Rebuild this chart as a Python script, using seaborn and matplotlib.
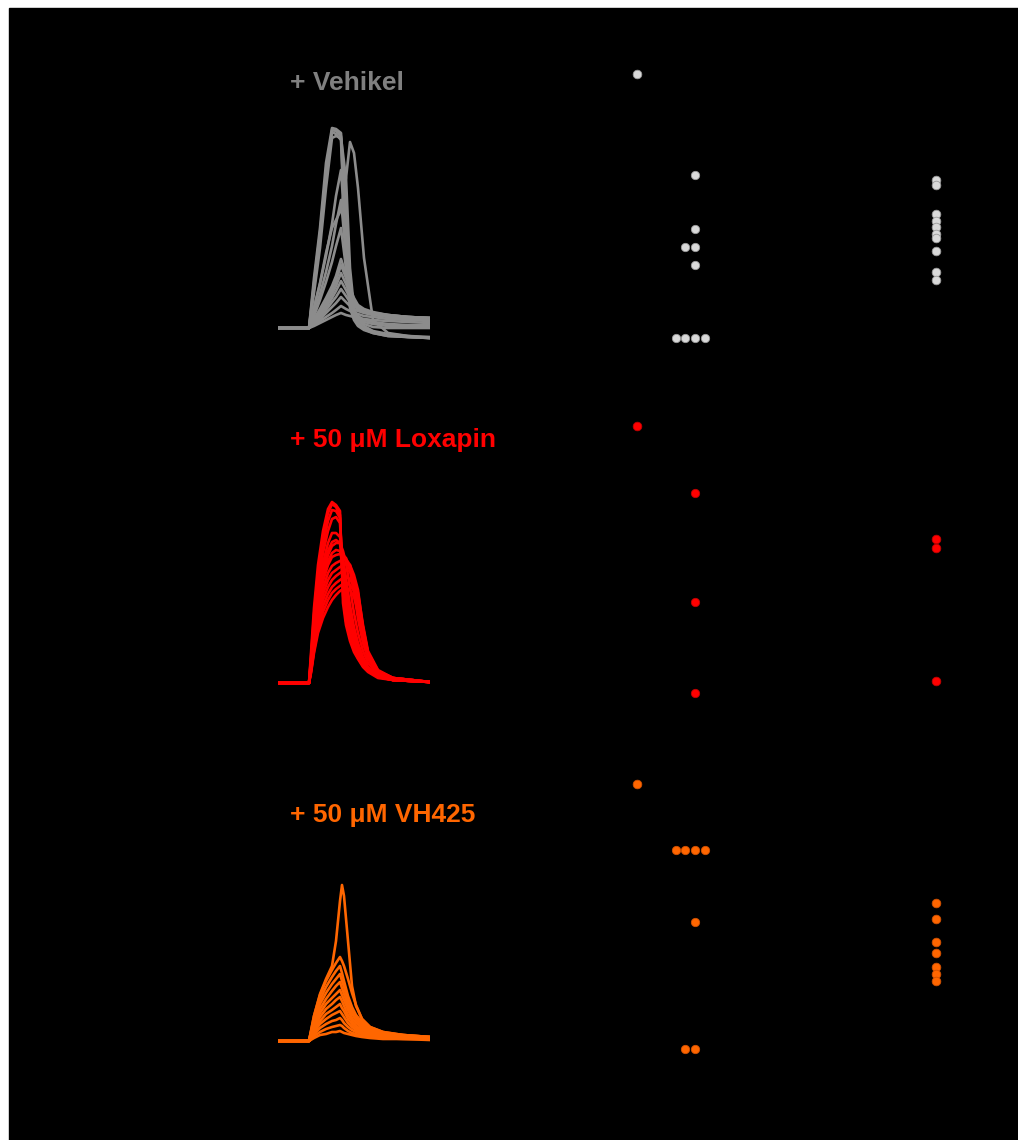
import matplotlib
matplotlib.use('Agg')
import matplotlib.pyplot as plt
import pandas as pd
import seaborn as sns

W, H = 1018, 1140

# --- Vehikel traces (time in px-like units, amplitude above baseline) ---
T_VEH = [0, 31, 36, 42, 48, 54, 58, 63, 68, 72, 76, 80, 86, 95, 110, 130, 152]
VEH_TRACES = [
    [0, 0, 2, 5, 8, 11, 13, 15, 13, 12, 11, 10, 9, 8, 7, 6, 5],
    [0, 0, 3, 7, 11, 15, 18, 22, 19, 17, 15, 14, 12, 11, 9, 8, 7],
    [0, 0, 4, 9, 15, 21, 25, 31, 26, 22, 19, 17, 15, 13, 11, 9, 8],
    [0, 0, 5, 11, 18, 26, 31, 39, 32, 26, 22, 19, 16, 14, 12, 10, 9],
    [0, 0, 6, 13, 21, 30, 37, 47, 38, 30, 24, 20, 17, 15, 12, 11, 10],
    [0, 0, 7, 15, 24, 34, 42, 55, 44, 34, 26, 21, 18, 15, 13, 11, 10],
    [0, 0, 8, 17, 27, 38, 47, 63, 50, 37, 28, 22, 18, 15, 13, 11, 10],
    [0, 0, 9, 19, 30, 42, 52, 69, 54, 40, 30, 23, 19, 16, 13, 11, 10],
    [0, 0, 12, 28, 46, 66, 82, 100, 60, 32, 18, 12, 8, 6, 4, 3, 3],
    [0, 0, 15, 34, 56, 82, 104, 128, 72, 35, 18, 10, 6, 4, 2, 2, 2],
    [0, 0, 20, 44, 72, 104, 132, 158, 85, 38, 16, 8, 4, 1, 0, 0, 0],
    [0, 0, 50, 100, 165, 200, 199, 195, 120, 35, 12, 5, 0, -4, -7, -9, -10],
    [0, 0, 40, 90, 150, 198, 197, 192, 80, 25, 10, 3, -1, -5, -8, -9, -10],
    [0, 0, 45, 95, 155, 196, 194, 188, 60, 20, 8, 2, -2, -5, -8, -9, -10],
    [0, 0, 35, 80, 140, 190, 192, 190, 150, 60, 20, 8, 2, -3, -6, -8, -9],
    [0, 0, 20, 45, 75, 100, 108, 118, 150, 186, 175, 140, 70, 8, -5, -8, -10],
]

# --- Loxapin traces ---
T_LOX = [0, 31, 33, 36, 40, 45, 50, 54, 58, 62, 65, 68, 72, 76, 80, 85, 90, 100, 115, 152]
LOX_TRACES = [
    [0, 0, 30, 75, 118, 152, 174, 181, 178, 172, 80, 58, 42, 31, 24, 16, 11, 5, 3, 1],
    [0, 0, 26, 68, 110, 146, 170, 179, 176, 168, 88, 62, 45, 33, 25, 17, 12, 6, 3, 1],
    [0, 0, 24, 62, 103, 138, 162, 173, 172, 165, 95, 70, 50, 36, 27, 18, 12, 6, 3, 1],
    [0, 0, 22, 58, 97, 130, 152, 164, 166, 160, 105, 80, 58, 42, 30, 20, 13, 6, 3, 1],
    [0, 0, 20, 54, 90, 120, 140, 150, 150, 146, 125, 105, 78, 56, 40, 26, 16, 7, 3, 1],
    [0, 0, 19, 52, 86, 114, 132, 141, 143, 140, 110, 88, 64, 46, 33, 22, 14, 7, 3, 1],
    [0, 0, 18, 50, 83, 110, 128, 137, 140, 140, 132, 120, 96, 70, 50, 32, 20, 8, 3, 1],
    [0, 0, 17, 48, 80, 106, 122, 130, 133, 132, 116, 96, 72, 52, 37, 24, 15, 7, 3, 1],
    [0, 0, 16, 46, 77, 102, 118, 126, 128, 129, 128, 125, 112, 90, 64, 40, 24, 10, 4, 1],
    [0, 0, 15, 42, 72, 95, 110, 117, 120, 122, 124, 124, 118, 100, 78, 50, 30, 12, 5, 1],
    [0, 0, 14, 40, 68, 89, 103, 110, 113, 116, 118, 119, 118, 108, 93, 55, 30, 12, 5, 1],
    [0, 0, 13, 37, 63, 83, 96, 103, 107, 110, 112, 113, 112, 105, 90, 58, 32, 13, 5, 1],
    [0, 0, 12, 34, 58, 77, 89, 96, 100, 103, 105, 106, 104, 97, 85, 56, 30, 12, 5, 1],
    [0, 0, 11, 32, 54, 71, 83, 90, 94, 97, 99, 100, 98, 92, 80, 52, 28, 11, 5, 1],
    [0, 0, 10, 30, 50, 65, 76, 83, 88, 92, 94, 95, 93, 86, 72, 46, 25, 10, 4, 1],
]

# --- VH425 traces ---
T_VH = [0, 31, 36, 42, 48, 54, 58, 62, 64, 66, 70, 74, 78, 84, 92, 105, 125, 152]
VH_TRACES = [
    [0, 0, 25, 46, 60, 71, 78, 84, 80, 75, 62, 48, 36, 22, 14, 9, 6, 4],
    [0, 0, 22, 41, 54, 64, 70, 75, 68, 60, 45, 34, 26, 19, 13, 8, 6, 4],
    [0, 0, 20, 37, 48, 57, 62, 67, 60, 54, 40, 30, 23, 17, 11, 8, 5, 4],
    [0, 0, 18, 32, 42, 50, 55, 59, 53, 47, 35, 27, 21, 15, 10, 7, 5, 3],
    [0, 0, 15, 28, 37, 43, 47, 51, 46, 41, 31, 23, 18, 13, 9, 6, 4, 3],
    [0, 0, 13, 24, 32, 37, 41, 44, 40, 35, 26, 20, 15, 11, 8, 5, 4, 3],
    [0, 0, 11, 20, 27, 31, 34, 37, 33, 30, 22, 17, 13, 9, 7, 5, 4, 3],
    [0, 0, 9, 17, 22, 26, 28, 30, 27, 24, 18, 14, 11, 8, 6, 4, 3, 2],
    [0, 0, 7, 13, 17, 20, 21, 23, 21, 18, 14, 11, 9, 7, 5, 4, 3, 2],
    [0, 0, 5, 9, 12, 14, 15, 16, 15, 13, 10, 8, 7, 5, 4, 3, 2, 2],
    [0, 0, 3, 6, 7, 9, 9, 10, 9, 8, 7, 6, 5, 4, 3, 2, 2, 1],
    [0, 0, 25, 47, 62, 75, 100, 140, 156, 145, 100, 55, 35, 22, 14, 9, 6, 4],
]

# --- dot values per row (three measures) ---
VEH_COL1 = [286]
VEH_COL2 = [185, 131, 113, 113, 95, 22, 22, 22, 22]
VEH_COL3 = [180, 175, 146, 139, 133, 126, 122, 109, 88, 80]
LOX_COL1 = [284]
LOX_COL2 = [217, 108, 17]
LOX_COL3 = [171, 162, 29]
VH_COL1 = [286]
VH_COL2 = [220, 220, 220, 220, 148, 21, 21]
VH_COL3 = [167, 151, 128, 117, 103, 96, 89]

LABELS = ['+ Vehikel', '+ 50 \u03bcM Loxapin', '+ 50 \u03bcM VH425']


def long_df(times, traces):
    rows = []
    for i, vals in enumerate(traces):
        for t, v in zip(times, vals):
            rows.append({'t': t, 'v': v, 'trace': i})
    return pd.DataFrame(rows)


def px_axes(fig, left, top, width, height):
    ax = fig.add_axes([left / W, 1 - (top + height) / H, width / W, height / H])
    ax.patch.set_alpha(0)
    return ax


plt.rcParams['font.family'] = ['Liberation Sans', 'DejaVu Sans']

fig = plt.figure(figsize=(W / 100, H / 100), dpi=100, facecolor='white')
fig.add_artist(plt.Rectangle((9 / W, 0), (W - 9) / W, (H - 8) / H,
                             transform=fig.transFigure, color='black', zorder=0))

rows = [
    # label, text color, trace color, times, traces, baseline px, label y, dot color, dot edge, cols, dots bottom
    (LABELS[0], '#808080', '#8c8c8c', T_VEH, VEH_TRACES, 328, 83, '#d9d9d9', '#9a9a9a',
     (VEH_COL1, VEH_COL2, VEH_COL3), 360),
    (LABELS[1], '#ff0000', '#ff0000', T_LOX, LOX_TRACES, 683, 440, '#ff0000', '#c00000',
     (LOX_COL1, LOX_COL2, LOX_COL3), 710),
    (LABELS[2], '#ff6600', '#ff6600', T_VH, VH_TRACES, 1041, 815, '#ff6600', '#d05000',
     (VH_COL1, VH_COL2, VH_COL3), 1070),
]

col_centers = [637, 695, 936]

for label, tcol, lcol, times, traces, base, label_y, dcol, dedge, cols, dbottom in rows:
    # traces
    ax = px_axes(fig, 278, base - 220, 152, 240)
    df = long_df(times, traces)
    sns.lineplot(data=df, x='t', y='v', units='trace', estimator=None,
                 color=lcol, linewidth=1.9, legend=False, ax=ax)
    ax.set_xlim(0, 152)
    ax.set_ylim(-20, 220)
    ax.axis('off')

    fig.text(290 / W, 1 - label_y / H, label, color=tcol, fontsize=19,
             fontweight='bold', va='center', ha='left')

    # dots
    for j, (cx, vals) in enumerate(zip(col_centers, cols)):
        dax = px_axes(fig, cx - 30, dbottom - 300, 60, 300)
        if j == 1:
            sns.swarmplot(y=vals, ax=dax, color=dcol, size=6.0,
                          edgecolor=dedge, linewidth=0.6)
        else:
            sns.stripplot(y=vals, ax=dax, jitter=False, color=dcol, size=6.2,
                          edgecolor=dedge, linewidth=0.6)
        dax.set_xlim(-0.5, 0.5)
        dax.set_ylim(0, 300)
        dax.axis('off')

fig.savefig('out.png', dpi=100, facecolor='white')
